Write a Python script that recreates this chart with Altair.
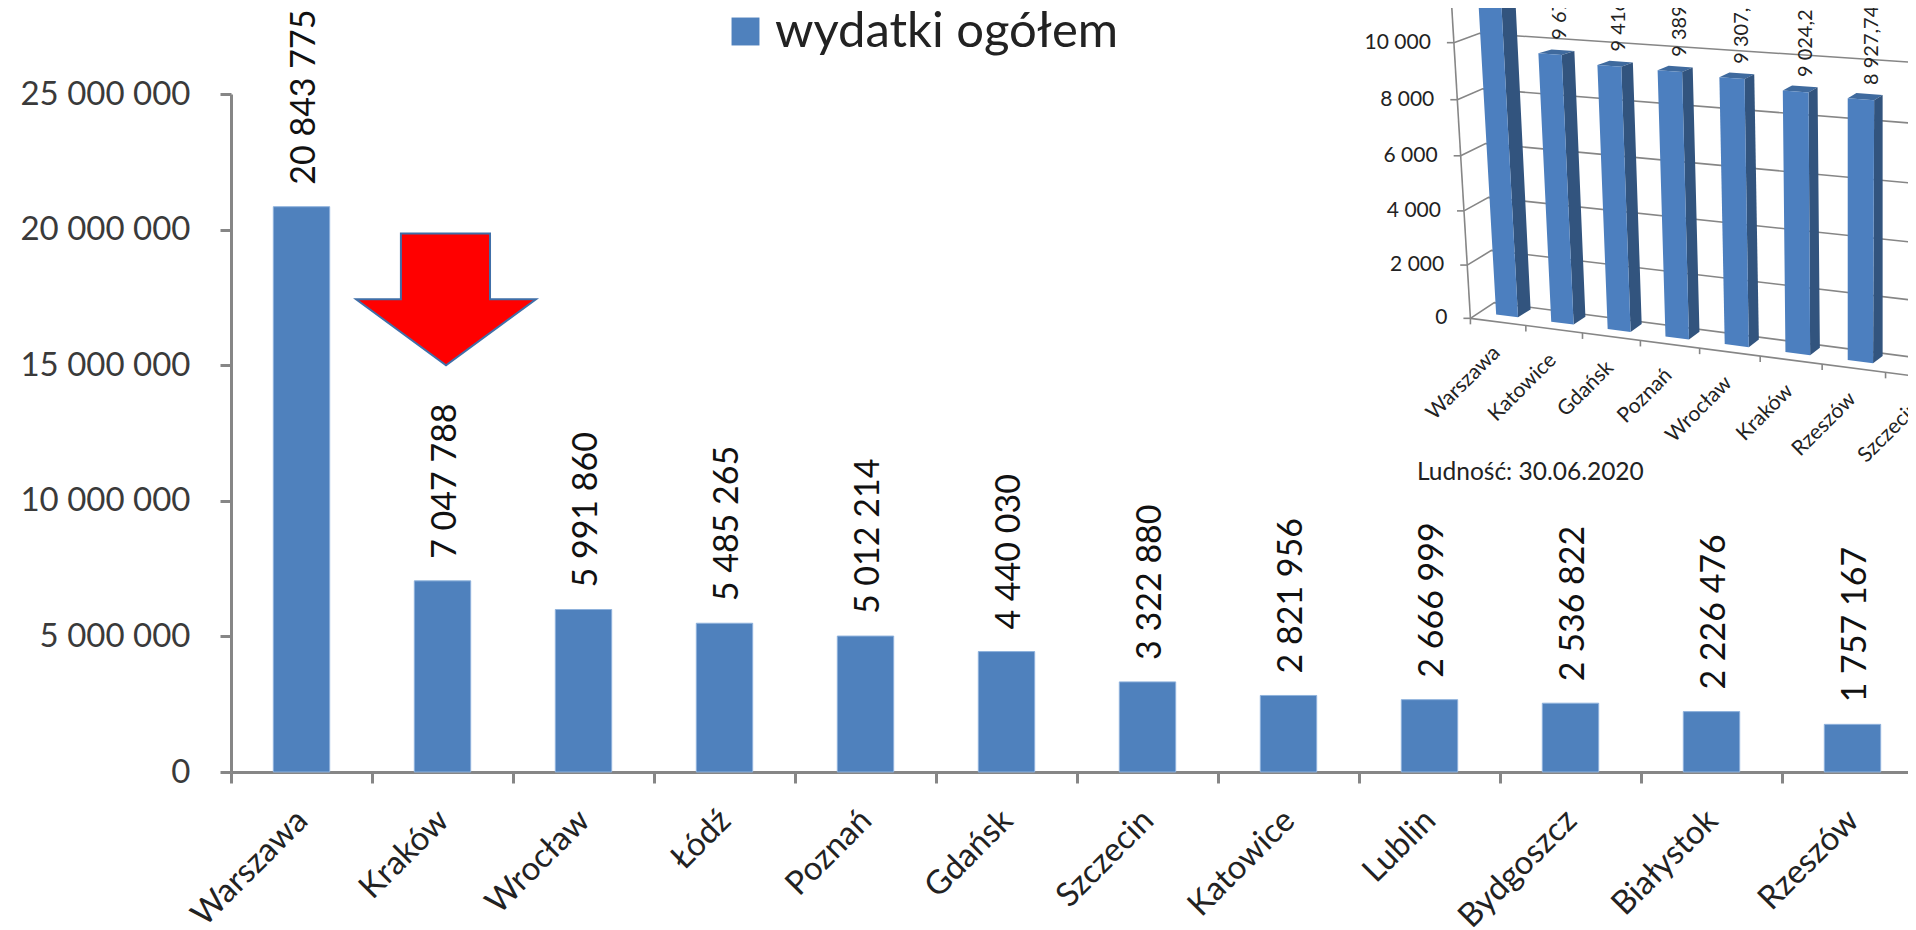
import altair as alt
import numpy as np
import pandas as pd

# ---- main chart data
cities = ["Warszawa", "Kraków", "Wrocław", "Łódź", "Poznań", "Gdańsk", "Szczecin",
          "Katowice", "Lublin", "Bydgoszcz", "Białystok", "Rzeszów"]
spending = [20843775, 7047788, 5991860, 5485265, 5012214, 4440030, 3322880,
            2821956, 2666999, 2536822, 2226476, 1757167]
series_name = "wydatki ogółem"
y_ticks = [0, 5000000, 10000000, 15000000, 20000000, 25000000]

# ---- arrow annotation (values on the y axis, category positions on x)
arrow_val = [15000000, 17430000, 17431000, 19860000]
arrow_left = [1.525, 0.887, 1.205, 1.205]
arrow_right = [1.525, 2.163, 1.837, 1.837]

# ---- inset data (per capita)
in_cities = ["Warszawa", "Katowice", "Gdańsk", "Poznań", "Wrocław", "Kraków", "Rzeszów", "Szczecin"]
in_values = [11640, 9670, 9416, 9389, 9307.5, 9024.25, 8927.74, 8300]
in_labels = ["", "9 67", "9 416", "9 389,", "9 307,", "9 024,2", "8 927,74", ""]
in_ticks = [0, 2000, 4000, 6000, 8000, 10000]
in_note = "Ludność: 30.06.2020"

# ---- layout
OX, OY, W, H = 231, 94, 1692, 678
STEP = 141
FONT = "Lato"
AXC = "#868686"
BLUE = "#4F81BD"


def z(X, Y):  # calibration points of the inset's perspective
    return (1340 + X / 2.722, Y / 3)


def homography(src, dst):
    A, b = [], []
    for (c, v), (x, y) in zip(src, dst):
        A.append([c, v, 1, 0, 0, 0, -c * x, -v * x]); b.append(x)
        A.append([0, 0, 0, c, v, 1, -c * y, -v * y]); b.append(y)
    h = np.linalg.solve(np.array(A, float), np.array(b, float))
    M = np.append(h, 1).reshape(3, 3)

    def f(c, v):
        p = M @ np.array([c, v, 1.0])
        return float(p[0] / p[2]), float(p[1] / p[2])
    return f


axis_plane = homography([(0, 0), (7, 0), (0, 10000), (7, 10000)],
                        [z(355, 955), z(1485, 1117), z(310, 128), z(1490, 227)])
wall_plane = homography([(0, 0), (7, 0), (0, 10000), (7, 10000)],
                        [z(420, 908), z(1555, 1071), z(380, 100), z(1560, 187)])
front_plane = homography([(1.3, 0), (6.3, 0), (1.3, 9670), (6.3, 8927.74)],
                         [z(575, 965), z(1382, 1080), z(540, 160), z(1382, 295)])
back_plane = homography([(1.7, 0), (6.7, 0), (1.7, 9670), (6.7, 8927.74)],
                        [z(668, 950), z(1477, 1068), z(638, 153), z(1477, 285)])


def strip(pts, pid, fill):
    ys = sorted(set(round(p[1], 3) for p in pts))
    rows = []
    n = len(pts)
    for k, y in enumerate(ys):
        xs = []
        for i in range(n):
            (x1, y1), (x2, y2) = pts[i], pts[(i + 1) % n]
            lo, hi = min(y1, y2), max(y1, y2)
            if lo - 1e-3 <= y <= hi + 1e-3:
                if abs(y2 - y1) < 1e-6:
                    xs += [x1, x2]
                else:
                    xs.append(x1 + (x2 - x1) * (y - y1) / (y2 - y1))
        rows.append(dict(pid=pid, y=y, x=min(xs), x2=max(xs), fill=fill))
    return rows


polys = []
for i, v in enumerate(in_values):
    a, b = i + 0.3, i + 0.7
    polys += strip([front_plane(a, v), front_plane(b, v), back_plane(b, v), back_plane(a, v)],
                   f"t{i}", "#3F6A9E")
    polys += strip([front_plane(b, v), back_plane(b, v), back_plane(b, 0), front_plane(b, 0)],
                   f"s{i}", "#32547E")
    polys += strip([front_plane(a, v), front_plane(b, v), front_plane(b, 0), front_plane(a, 0)],
                   f"f{i}", "#4C7FBF")
polys = pd.DataFrame(polys)

lines = []


def add_line(pid, pts):
    for k, (x, y) in enumerate(pts):
        lines.append(dict(pid=pid, ord=k, x=x, y=y))


for t in in_ticks:
    add_line(f"g{t}", [axis_plane(0, t), wall_plane(0, t), wall_plane(8, t)])
    ax, ay = axis_plane(0, t)
    add_line(f"yt{t}", [(ax - 7, ay), (ax, ay)])
add_line("axis", [axis_plane(0, 0), axis_plane(0, 12500)])
add_line("floor", [axis_plane(0, 0), axis_plane(8, 0)])
for k in range(0, 9):
    ax, ay = axis_plane(k, 0)
    add_line(f"xt{k}", [(ax, ay), (ax, ay + 6)])
lines = pd.DataFrame(lines)

in_val_df = pd.DataFrame([
    dict(x=front_plane(i + 0.63, v)[0], y=front_plane(i + 0.63, v)[1], t=l)
    for i, (v, l) in enumerate(zip(in_values, in_labels)) if l
])
in_y_df = pd.DataFrame([
    dict(x=axis_plane(0, t)[0] - 23, y=axis_plane(0, t)[1], t=f"{t:,}".replace(",", " "))
    for t in in_ticks
])
in_x_df = pd.DataFrame([
    dict(x=axis_plane(i + 0.5, 0)[0] - 1, y=axis_plane(i + 0.5, 0)[1] + 28, t=c)
    for i, c in enumerate(in_cities)
])
note_df = pd.DataFrame([dict(x=z(215, 0)[0], y=z(0, 1420)[1], t=in_note)])

main = pd.DataFrame({"city": cities, "val": spending, "series": series_name})
main["lab"] = [f"{v:,}".replace(",", " ") for v in spending]
arrow = pd.DataFrame({"v": arrow_val, "l": arrow_left, "r": arrow_right})

# ---- scales
xb = alt.Scale(domain=cities, paddingInner=0.6, paddingOuter=0.3)
yv = alt.Scale(domain=[0, 25000000], range=[H, 0])
xc = alt.Scale(domain=[0, 12], range=[0, STEP * 12])
px = alt.Scale(domain=[OX, OX + W], range=[0, W])
py = alt.Scale(domain=[OY, OY + H], range=[0, H])

bars = alt.Chart(main).mark_bar(stroke="#8FB2DC", strokeWidth=1).encode(
    x=alt.X("city:N", scale=xb, title=None, axis=alt.Axis(
        labelAngle=-45, labelAlign="right", labelBaseline="middle", labelFont=FONT,
        labelFontSize=33, labelColor="#222222", labelPadding=32, tickOffset=-70.5, labelOffset=71,
        domainColor=AXC, domainWidth=3, tickColor=AXC, tickWidth=3, tickSize=11,
        labelOverlap=False, labelLimit=400, grid=False)),
    y=alt.Y("val:Q", scale=yv, title=None, axis=alt.Axis(
        values=y_ticks, labelExpr="replace(format(datum.value, ','), /,/g, ' ')",
        labelFont=FONT, labelFontSize=33, labelColor="#3a3a3a", labelPadding=30,
        domainColor=AXC, domainWidth=3, tickColor=AXC, tickWidth=3, tickSize=11, grid=False)),
    color=alt.Color("series:N", scale=alt.Scale(domain=[series_name], range=[BLUE]),
                    legend=alt.Legend(orient="none", legendX=490, legendY=-87, title=None,
                                      symbolType="square", symbolSize=780, symbolStrokeWidth=0,
                                      labelFont=FONT, labelFontSize=49, labelColor="#222222",
                                      labelOffset=5, labelLimit=500)),
)
bar_labels = alt.Chart(main).mark_text(angle=270, align="left", baseline="middle", dx=22, dy=3,
                                       font=FONT, fontSize=34, color="#111111").encode(
    x=alt.X("city:N", scale=xb, axis=None),
    y=alt.Y("val:Q", scale=yv, axis=None),
    text="lab:N",
)
arrow_mark = alt.Chart(arrow).mark_area(orient="horizontal", color="#FF0000", stroke="#3F6FA8",
                                        strokeWidth=2).encode(
    x=alt.X("l:Q", scale=xc, axis=None),
    x2="r:Q",
    y=alt.Y("v:Q", scale=yv, axis=None),
)

grid = alt.Chart(lines).mark_line(color=AXC, strokeWidth=1.6).encode(
    x=alt.X("x:Q", scale=px, axis=None),
    y=alt.Y("y:Q", scale=py, axis=None),
    detail="pid:N",
    order="ord:Q",
)
faces = alt.Chart(polys).mark_area(orient="horizontal").encode(
    x=alt.X("x:Q", scale=px, axis=None),
    x2="x2:Q",
    y=alt.Y("y:Q", scale=py, axis=None),
    fill=alt.Fill("fill:N", scale=None),
    detail="pid:N",
)


def in_text(df, size, **kw):
    return alt.Chart(df).mark_text(font=FONT, fontSize=size, color="#222222", **kw).encode(
        x=alt.X("x:Q", scale=px, axis=None),
        y=alt.Y("y:Q", scale=py, axis=None),
        text="t:N",
    )


chart = alt.layer(
    bars, bar_labels, arrow_mark, grid, faces,
    in_text(in_val_df, 20, angle=270, align="left", baseline="middle", dx=15, dy=2),
    in_text(in_y_df, 21, align="right", baseline="middle"),
    in_text(in_x_df, 21, angle=315, align="right", baseline="middle"),
    in_text(note_df, 24.5, align="left", baseline="middle", dx=-2),
).resolve_scale(x="independent", y="independent", color="independent", fill="independent").properties(
    width=W, height=H,
    autosize=alt.AutoSizeParams(type="none"),
    padding={"left": OX - 8, "top": OY - 8, "right": -15, "bottom": 158},
    background="white",
).configure_view(stroke=None)

chart.save("out.html", embed_options={"renderer": "svg", "actions": False})
